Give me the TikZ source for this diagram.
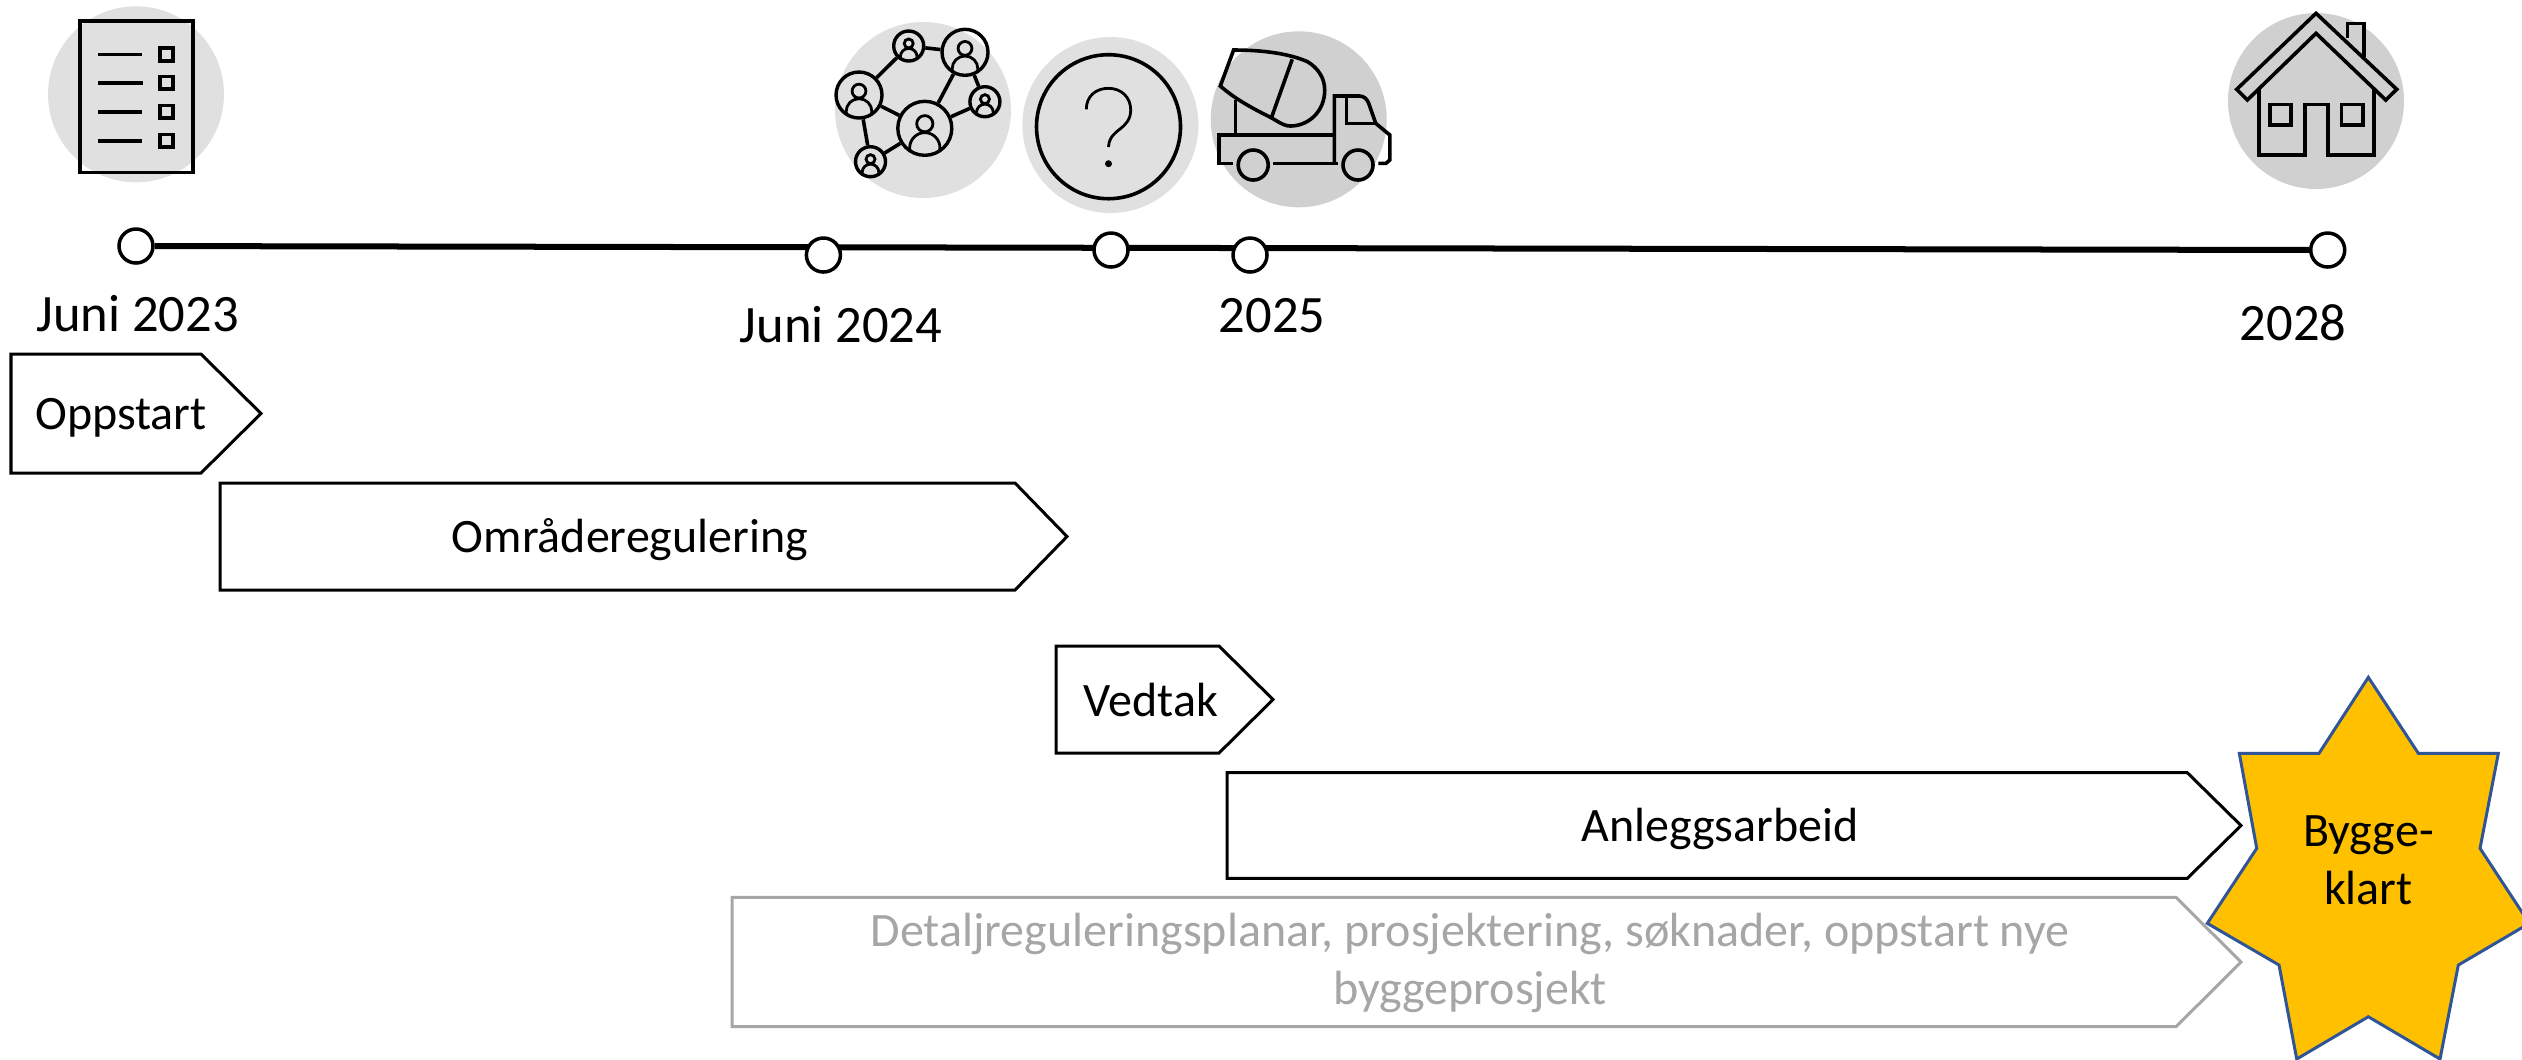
\documentclass[tikz,border=0pt]{standalone}
\usepackage{fontspec}
\setmainfont{Carlito}
\usetikzlibrary{calc,backgrounds}
\definecolor{lysgra}{HTML}{E0E0E0}
\definecolor{morkgra}{HTML}{D0D0D0}
\definecolor{stjernegul}{HTML}{FFC000}
\definecolor{stjerneblaa}{HTML}{2F5597}
\definecolor{fasegra}{HTML}{A6A6A6}
\tikzset{
	ikon/.style={line width=0.036cm, line join=miter},
	punkt/.style={circle, draw, fill=white, line width=0.035cm, minimum size=0.34cm, inner sep=0pt},
	dato/.style={anchor=base, font=\fontsize{14.95}{18}\selectfont},
	fase/.style={line width=0.03cm, fill=white},
	fasetekst/.style={anchor=base, align=center, font=\fontsize{13.65}{16.4}\selectfont},
	nett/.style={circle, draw, line width=0.034cm, inner sep=0pt}
}
\def\pil[#1](#2,#3,#4,#5,#6);{\draw[fase, #1] (#2,#3) -- (#4,#3) -- (#5,{(#3+#6)/2}) -- (#4,#6) -- (#2,#6) -- cycle;}
\def\persona(#1,#2,#3,#4);{
	\node[nett, minimum size={2*#4*0.01cm}] (#1) at (#2,#3) {};
	\draw[ikon, line width=0.028cm] (#2,{#3-0.17*#4}) circle ({0.3*#4});
	\begin{scope}
		\clip (#2,#3) circle (#4);
		\draw[ikon, line width=0.028cm] (#2,{#3+0.72*#4}) circle ({0.56*#4});
	\end{scope}
}

\begin{document}
\begin{tikzpicture}[x=0.01cm, y=-0.01cm]
			%%%%% START %%%%%
			\useasboundingbox (0, 0) rectangle (2522, 1059);
			
			\fill[lysgra] (136, 94.3) circle (88);
			\fill[lysgra] (923, 110) circle (88);
			\fill[lysgra] (1110.4, 125) circle (88);
			\fill[morkgra] (1298.7, 119.3) circle (88);
			\fill[morkgra] (2316, 101) circle (88);
			
			% dokument
			\draw[ikon] (80, 21) rectangle (192.7, 172.3);
			\draw[ikon] (98.3, 54.3) -- (141.7, 54.3);
			\draw[ikon] (98.3, 82.7) -- (142.7, 82.7);
			\draw[ikon] (98.3, 111.7) -- (141.7, 111.7);
			\draw[ikon] (98.3, 140.7) -- (141.7, 140.7);
			\draw[ikon] (159.7, 48) rectangle (172.7, 60.7);
			\draw[ikon] (159.7, 76.4) rectangle (172.7, 89);
			\draw[ikon] (159.7, 105.4) rectangle (172.7, 118);
			\draw[ikon] (159.7, 134.4) rectangle (172.7, 147);
			
			% nettverk
			\persona(pa,924.8,128.3,27);
			\persona(pb,965,52.3,23);
			\persona(pc,859,95,23);
			\persona(pd,908.7,46,15);
			\persona(pe,984.9,101.7,15);
			\persona(pf,870.5,161.7,15);
			\draw[ikon] (pc) -- (pd);
			\draw[ikon] (pd) -- (pb);
			\draw[ikon] (pc) -- (pa);
			\draw[ikon] (pa) -- (pb);
			\draw[ikon] (pb) -- (pe);
			\draw[ikon] (pa) -- (pe);
			\draw[ikon] (pc) -- (pf);
			\draw[ikon] (pf) -- (pa);
			
			% spoersmaal
			\draw[ikon] (1108.5, 126.7) circle (72);
			\draw[ikon, line width=0.028cm] (1086.3, 109.3) .. controls (1086.3, 96) and (1096, 88.3) .. (1108.5, 88.3) .. controls (1121, 88.3) and (1130.7, 97) .. (1130.7, 110) .. controls (1130.7, 120) and (1125, 125) .. (1120, 129) .. controls (1112, 135) and (1108.5, 140) .. (1108.5, 147);
			\fill (1108.5, 163.7) circle (3.5);
			
			% bil
			\draw[ikon] (1233.6, 50) .. controls (1265, 50) and (1290, 54) .. (1307.5, 61.7) .. controls (1318, 68) and (1324.7, 78) .. (1324.7, 90) .. controls (1324.7, 112) and (1308, 126) .. (1290.3, 126) .. controls (1283, 126) and (1276, 120) .. (1269.2, 116.7) .. controls (1252, 108) and (1235, 99) .. (1220.3, 86) -- cycle;
			\draw[ikon] (1292.2, 59.3) -- (1271.2, 118.3);
			\draw[ikon] (1235.6, 100) -- (1235.6, 135);
			\draw[ikon] (1232.9, 163.3) -- (1218.7, 163.3) -- (1218.7, 135) -- (1334.3, 135);
			\draw[ikon] (1273, 163.3) -- (1338, 163.3);
			\draw[ikon] (1334.3, 163.3) -- (1334.3, 96) -- (1359.2, 96) .. controls (1364, 96) and (1367, 99) .. (1368.7, 103.3) -- (1375.7, 123.3) -- (1389.8, 135) -- (1389.8, 160) -- (1386, 163.3) -- (1378.3, 163.3);
			\draw[ikon] (1346.5, 96) -- (1346.5, 123.3) -- (1375.7, 123.3);
			\draw[ikon] (1253.2, 165) circle (15);
			\draw[ikon] (1358, 165) circle (15);
			
			% hus
			\draw[ikon] (2316, 13.3) -- (2396.7, 89.3) -- (2385.7, 100) -- (2316, 33.3) -- (2247.3, 100) -- (2236.7, 89.3) -- cycle;
			\draw[ikon] (2258.7, 88.3) -- (2258.7, 155) -- (2305, 155) -- (2305, 104.3) -- (2327.7, 104.3) -- (2327.7, 155) -- (2374, 155) -- (2374, 88.3);
			\draw[ikon] (2270, 104.3) rectangle (2291, 125);
			\draw[ikon] (2341.3, 104.3) rectangle (2362.7, 125);
			\draw[ikon] (2347.3, 38.3) -- (2347.3, 23.3) -- (2364, 23.3) -- (2364, 56.7);
			
			% tidslinje
			\node[punkt] (juni23) at (136, 246) {};
			\node[punkt] (juni24) at (823.4, 255) {};
			\node[punkt] (midt) at (1111, 250) {};
			\node[punkt] (aar25) at (1250, 255) {};
			\node[punkt] (aar28) at (2327.7, 250) {};
			\begin{scope}[on background layer]
				\draw[line width=0.06cm] (juni23) -- (aar28);
			\end{scope}
			
			\node[dato] (d23) at (137.5, 331.7) {Juni 2023};
			\node[dato] (d24) at (841, 342) {Juni 2024};
			\node[dato] (d25) at (1272, 332) {2025};
			\node[dato] (d28) at (2293, 340) {2028};
			
			% faser
			\pil[](11, 354, 201, 261, 473);
			\node[fasetekst] (oppstart) at (121, 429) {Oppstart};
			\pil[](220, 483, 1015, 1067, 590);
			\node[fasetekst] (omraade) at (630, 552) {Områderegulering};
			\pil[](1056, 646, 1219, 1273, 753);
			\node[fasetekst] (vedtak) at (1151, 716) {Vedtak};
			\pil[](1227, 772.7, 2187.3, 2241, 878.3);
			\node[fasetekst] (anlegg) at (1720, 841) {Anleggsarbeid};
			\pil[draw=fasegra](732, 897.3, 2176, 2241, 1026.7);
			\node[fasetekst, text=fasegra] (detalj) at (1470, 1004) {Detaljreguleringsplanar, prosjektering, søknader, oppstart nye\\byggeprosjekt};
			
			% stjerne
			\draw[line width=0.03cm, fill=stjernegul, draw=stjerneblaa] (2368.3, 677.3) -- (2418.3, 753.3) -- (2498.3, 753.3) -- (2480, 848.3) -- (2529.3, 923.3) -- (2458.3, 965) -- (2440, 1059) -- (2368.3, 1016.7) -- (2296.7, 1059) -- (2279, 965) -- (2207.3, 923.3) -- (2256.7, 848.3) -- (2239.3, 753.3) -- (2319, 753.3) -- cycle;
			\node[fasetekst] (klart) at (2368.3, 904) {Bygge-\\klart};
			%%%%% END %%%%%
		\end{tikzpicture}
\end{document}
